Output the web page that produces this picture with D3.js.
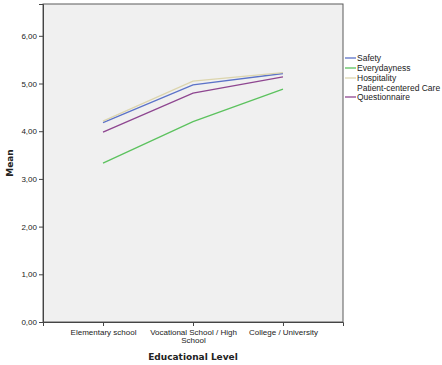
<!DOCTYPE html>
<html>
<head>
  <meta charset="UTF-8">
  <style>
    body { margin: 0; background: #fff; }
    text { font-family: "Liberation Sans", Arial, sans-serif; fill: #222; }
    .tick text { font-size: 8px; }
    .legend text { font-size: 8.5px; }
    .title { font-family: "DejaVu Sans", sans-serif; font-weight: bold; font-size: 9px; }
  </style>
</head>
<body>
<svg></svg>
<script src="https://d3js.org/d3.v7.min.js"></script>
<script>
let width = 442, height = 365;

// data
var levels = ["Elementary school", "Vocational School / High School", "College / University"];
var seriesNames = ["Safety", "Everydayness", "Hospitality", "Patient-centered Care Questionnaire"];
var safety = [4.18, 4.97, 5.21];
var everydayness = [3.33, 4.20, 4.88];
var hospitality = [4.21, 5.05, 5.23];
var pccq = [3.98, 4.80, 5.14];
var yTicks = [0, 1, 2, 3, 4, 5, 6];

var colors = ["#5b72c8", "#5cc25e", "#dcd5ad", "#8e4690"];
var allSeries = [safety, everydayness, hospitality, pccq];

let svg = d3.select("svg")
    .attr("width", width)
    .attr("height", height);

var pLeft = 43, pRight = 343, pTop = 4, pBottom = 322;

var x = d3.scalePoint()
    .domain(levels)
    .range([pLeft, pRight])
    .padding(0.667);

var y = d3.scaleLinear()
    .domain([0, 6.667])
    .range([pBottom, pTop]);

// plot background
svg.append("rect")
    .attr("x", pLeft).attr("y", pTop)
    .attr("width", pRight - pLeft).attr("height", pBottom - pTop)
    .attr("fill", "#f0f0f0")
    .attr("stroke", "#5a5a5a")
    .attr("stroke-width", 1);

// y axis
var yAxis = svg.append("g")
    .attr("transform", "translate(" + pLeft + ",0)")
    .call(d3.axisLeft(y).tickValues(yTicks).tickSize(4).tickPadding(2)
        .tickFormat(d => d3.format(".2f")(d).replace(".", ",")));
yAxis.select(".domain").attr("stroke", "#444");
yAxis.selectAll(".tick line").attr("stroke", "#444");

// x axis
var xAxis = svg.append("g")
    .attr("transform", "translate(0," + pBottom + ")")
    .call(d3.axisBottom(x).tickSize(4).tickPadding(3));
xAxis.select(".domain").attr("stroke", "#444");
xAxis.selectAll(".tick line").attr("stroke", "#444");
xAxis.selectAll(".tick text").each(function(d) {
    var t = d3.select(this);
    if (d === "Vocational School / High School") {
        t.text("");
        t.append("tspan").attr("x", 0).attr("dy", "0.71em").text("Vocational School / High");
        t.append("tspan").attr("x", 0).attr("dy", "1em").text("School");
        t.attr("dy", null);
    }
});

// lines
var line = d3.line()
    .x((d, i) => x(levels[i]))
    .y(d => y(d));

svg.append("g")
    .selectAll("path")
    .data(allSeries)
    .enter()
    .append("path")
    .attr("d", line)
    .attr("fill", "none")
    .attr("stroke", (d, i) => colors[i])
    .attr("stroke-width", 1.3);

// axis titles
svg.append("text")
    .attr("class", "title")
    .attr("transform", "translate(13," + ((pTop + pBottom) / 2) + ") rotate(-90)")
    .attr("text-anchor", "middle")
    .text("Mean");

svg.append("text")
    .attr("class", "title")
    .attr("x", (pLeft + pRight) / 2)
    .attr("y", 360)
    .attr("text-anchor", "middle")
    .text("Educational Level");

// legend
var legendY = [58, 68, 78, 97];
var legend = svg.selectAll(".legend")
    .data(seriesNames)
    .enter()
    .append("g")
    .attr("class", "legend")
    .attr("transform", (d, i) => "translate(345," + legendY[i] + ")");

legend.append("line")
    .attr("x1", 0).attr("x2", 11)
    .attr("y1", 0).attr("y2", 0)
    .attr("stroke", (d, i) => colors[i])
    .attr("stroke-width", 1.3);

legend.append("text")
    .attr("x", 12)
    .attr("y", (d, i) => i === 3 ? -9 : 0)
    .attr("dy", "0.32em")
    .each(function(d, i) {
        var t = d3.select(this);
        if (i === 3) {
            t.append("tspan").attr("x", 12).text("Patient-centered Care");
            t.append("tspan").attr("x", 12).attr("dy", "1.05em").text("Questionnaire");
        } else {
            t.text(d);
        }
    });
</script>
</body>
</html>
